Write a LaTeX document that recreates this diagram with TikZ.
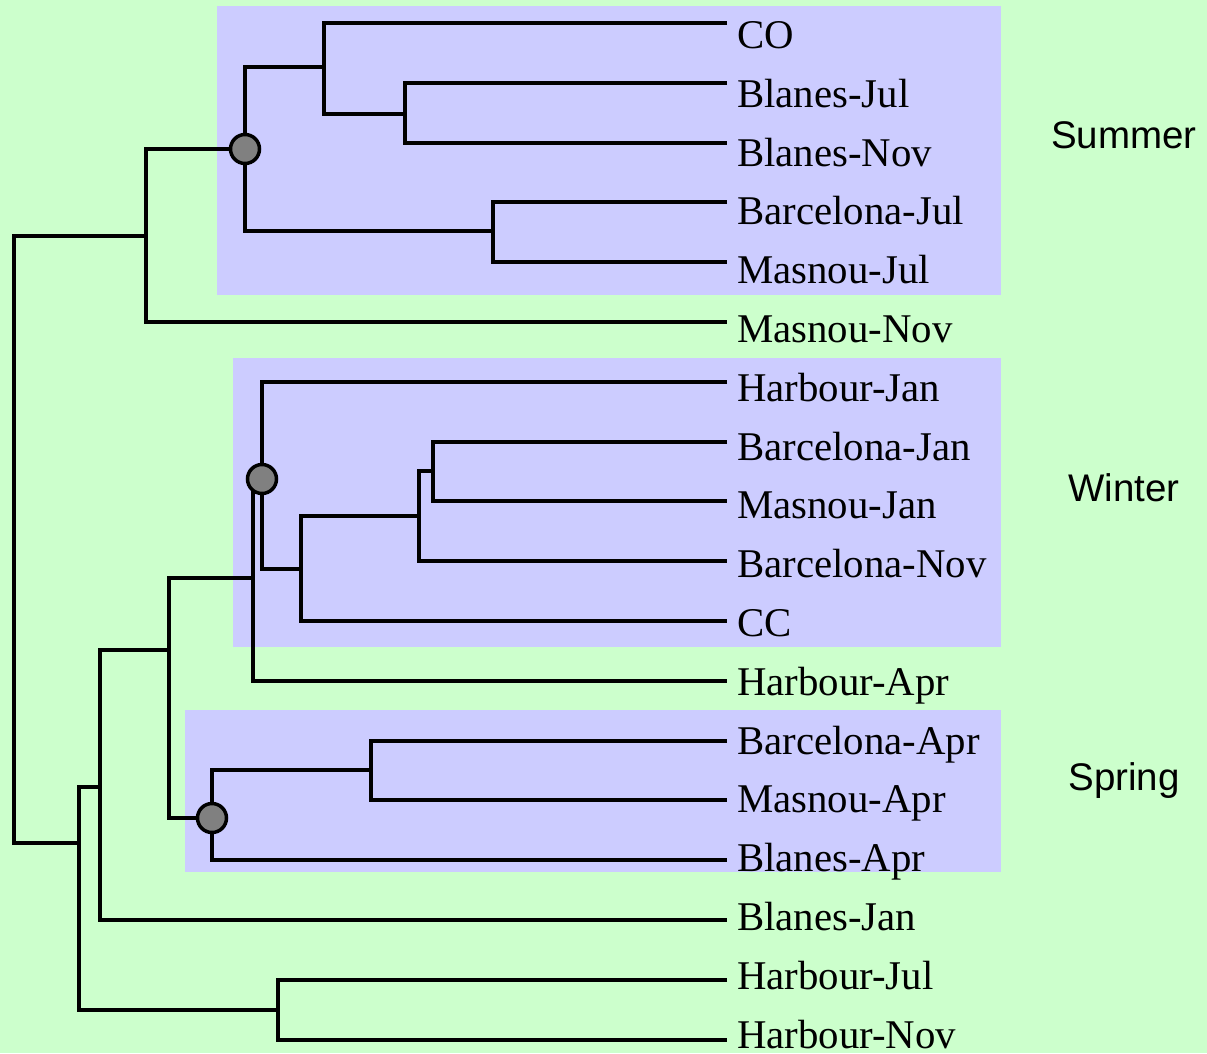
\documentclass[tikz,border=0pt]{standalone}
\usepackage{fontspec}
\usepackage{tikz}
\usetikzlibrary{positioning}
\newfontfamily\leaffont{Liberation Serif}
\newfontfamily\seasonfont{Liberation Sans}
\definecolor{bggreen}{HTML}{CCFFCC}
\definecolor{cladeblue}{HTML}{CCCCFF}
\definecolor{hubgray}{HTML}{808080}

\begin{document}
\begin{tikzpicture}[
    x=1pt, y=-1pt,
    leaf/.style={anchor=west, inner sep=0pt, text height=27pt, text depth=0pt,
                 font=\leaffont\fontsize{40.8}{48}\selectfont},
    season/.style={anchor=base, inner sep=0pt, font=\seasonfont\fontsize{38.5}{46}\selectfont},
    branch/.style={draw, line width=4pt},
    hub/.style={circle, draw, line width=3.5pt, fill=hubgray, minimum size=29pt, inner sep=0pt},
    clade/.style={fill=cladeblue}
]
\fill[bggreen] (0,0) rectangle (1207,1053);
\useasboundingbox (0,0) rectangle (1207,1053);

% shaded clades
\fill[clade] (217,6) rectangle (1001,295);
\fill[clade] (233,358) rectangle (1001,647);
\fill[clade] (185,710) rectangle (1001,872);

% leaves: tip of the branch and its label
\foreach \name/\lbl [count=\i, evaluate=\i as \ly using 23+59.8*(\i-1),
                     evaluate=\i as \ty using 35+58.8*(\i-1)] in {
    co/CO, blJul/Blanes-Jul, blNov/Blanes-Nov, bcJul/Barcelona-Jul,
    maJul/Masnou-Jul, maNov/Masnou-Nov, haJan/Harbour-Jan,
    bcJan/Barcelona-Jan, maJan/Masnou-Jan, bcNov/Barcelona-Nov, cc/CC,
    haApr/Harbour-Apr, bcApr/Barcelona-Apr, maApr/Masnou-Apr,
    blApr/Blanes-Apr, blJan/Blanes-Jan, haJul/Harbour-Jul, haNov/Harbour-Nov} {
  \coordinate (\name) at (727,\ly);
  \node[leaf] (\name-txt) at (737,\ty) {\lbl};
}

% inner joins
\coordinate (nA) at (324,67);
\coordinate (nB) at (405,114);
\coordinate (nC) at (493,231);
\coordinate (sum) at (245,149);
\coordinate (nD) at (146,236);
\coordinate (nE) at (433,471);
\coordinate (nF) at (419,516);
\coordinate (nG) at (301,569);
\coordinate (win) at (262,479);
\coordinate (nH) at (253,578);
\coordinate (nI) at (371,770);
\coordinate (spr) at (212,818);
\coordinate (nJ) at (169,650);
\coordinate (nK) at (100,787);
\coordinate (nL) at (278,1010);
\coordinate (nM) at (79,843);
\coordinate (root) at (14,540);

\draw[branch] (co) -| (nA) |- (nB);
\draw[branch] (blJul) -| (nB) |- (blNov);
\draw[branch] (bcJul) -| (nC) |- (maJul);
\draw[branch] (nA) -| (sum) |- (nC);
\draw[branch] (sum) -| (nD) |- (maNov);
\draw[branch] (bcJan) -| (nE) |- (maJan);
\draw[branch] (nE) -| (nF) |- (bcNov);
\draw[branch] (nF) -| (nG) |- (cc);
\draw[branch] (haJan) -| (win) |- (nG);
\draw[branch] (win) -| (nH) |- (haApr);
\draw[branch] (bcApr) -| (nI) |- (maApr);
\draw[branch] (nI) -| (spr) |- (blApr);
\draw[branch] (nH) -| (nJ) |- (spr);
\draw[branch] (nJ) -| (nK) |- (blJan);
\draw[branch] (haJul) -| (nL) |- (haNov);
\draw[branch] (nK) -| (nM) |- (nL);
\draw[branch] (nD) -| (root) |- (nM);

% hubs of the seasonal clades
\node[hub] (sumhub) at (sum) {};
\node[hub] (winhub) at (win) {};
\node[hub] (sprhub) at (spr) {};

\node[season] (summer) at (1124,148.5) {Summer};
\node[season] (winter) at (1124,501.5) {Winter};
\node[season] (spring) at (1124,790) {Spring};
\end{tikzpicture}
\end{document}
